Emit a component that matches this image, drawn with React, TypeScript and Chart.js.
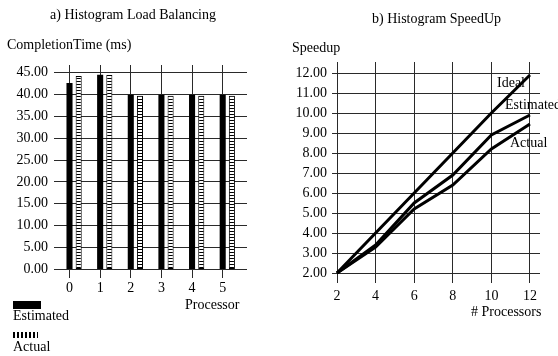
import React, { useEffect, useRef } from "react";
import { Chart, registerables } from "chart.js";

Chart.register(...registerables);

// ---- a) Histogram Load Balancing ----
const processors = [0, 1, 2, 3, 4, 5];
const estimatedTime = [42.6, 44.5, 39.9, 39.9, 39.9, 39.9];
const actualTime = [44.2, 44.4, 39.7, 39.7, 39.7, 39.7];
const loadTicks = [0, 5, 10, 15, 20, 25, 30, 35, 40, 45];

// ---- b) Histogram SpeedUp ----
const procCounts = [2, 4, 6, 8, 10, 12];
const idealSpeedup = [2, 4, 6, 8, 10, 11.9];
const estimatedSpeedup = [2, 3.4, 5.5, 6.9, 8.9, 9.9];
const actualSpeedup = [2, 3.3, 5.2, 6.4, 8.2, 9.45];
const speedupTicks = [2, 3, 4, 5, 6, 7, 8, 9, 10, 11, 12];

const FONT = "'Liberation Serif', 'DejaVu Serif', serif";
const tickFont = { family: FONT, size: 14 };
const GRID = "#2a2a2a";

function makeStripePattern(): CanvasPattern | string {
  const c = document.createElement("canvas");
  c.width = 4;
  c.height = 3;
  const ctx = c.getContext("2d");
  if (!ctx) return "#fff";
  ctx.fillStyle = "#fff";
  ctx.fillRect(0, 0, 4, 3);
  ctx.fillStyle = "#000";
  ctx.fillRect(0, 0, 4, 1);
  const p = ctx.createPattern(c, "repeat");
  return p || "#fff";
}

const textStyle: React.CSSProperties = {
  position: "absolute",
  fontFamily: FONT,
  fontSize: 14,
  lineHeight: "14px",
  color: "#000",
  whiteSpace: "nowrap",
};

export default function App() {
  const leftRef = useRef<HTMLCanvasElement>(null);
  const rightRef = useRef<HTMLCanvasElement>(null);

  useEffect(() => {
    if (!leftRef.current || !rightRef.current) return;
    const pattern = makeStripePattern();

    const left = new Chart(leftRef.current, {
      type: "bar",
      data: {
        datasets: [
          {
            label: "Estimated",
            data: processors.map((p, i) => ({ x: p, y: estimatedTime[i] })),
            backgroundColor: "#000",
            borderWidth: 0,
            categoryPercentage: 0.6,
            barPercentage: 0.66,
            xAxisID: "x",
            yAxisID: "y",
          },
          {
            label: "Actual",
            data: processors.map((p, i) => ({ x: p, y: actualTime[i] })),
            backgroundColor: pattern as any,
            borderColor: "#000",
            borderWidth: 1,
            borderSkipped: false,
            categoryPercentage: 0.6,
            barPercentage: 0.66,
            xAxisID: "x",
            yAxisID: "y",
          },
        ],
      },
      options: {
        animation: false,
        responsive: false,
        maintainAspectRatio: false,
        layout: { padding: { left: 0, right: 13, top: 65, bottom: 0 } },
        plugins: {
          legend: { display: false },
          tooltip: { enabled: false },
          title: { display: false },
        },
        scales: {
          x: {
            type: "linear",
            min: -0.656,
            max: 5.643,
            offset: false,
            grid: { offset: false },
            display: false,
          },
          xg: {
            type: "linear",
            position: "bottom",
            min: -0.506,
            max: 5.793,
            offset: false,
            afterBuildTicks: (s: any) => {
              s.ticks = processors.map((v) => ({ value: v }));
            },
            afterFit: (s: any) => {
              s.height = 22;
            },
            grid: { color: GRID, lineWidth: 1, drawTicks: false, offset: false },
            border: { display: false },
            ticks: {
              font: tickFont,
              color: "#000",
              padding: 2,
              maxRotation: 0,
              callback: (v: any) => String(v),
            },
          },
          y: {
            type: "linear",
            min: -1.94,
            max: 46.7,
            afterBuildTicks: (s: any) => {
              s.ticks = loadTicks.map((v) => ({ value: v }));
            },
            afterFit: (s: any) => {
              s.width = 54;
            },
            grid: { color: GRID, lineWidth: 1, drawTicks: false },
            border: { display: false },
            ticks: {
              font: tickFont,
              color: "#000",
              padding: 6,
              callback: (v: any) => Number(v).toFixed(2),
            },
          },
        },
      } as any,
    });

    const lineDs = (label: string, vals: number[]) => ({
      label,
      data: procCounts.map((p, i) => ({ x: p, y: vals[i] })),
      borderColor: "#000",
      backgroundColor: "#000",
      borderWidth: 3,
      pointRadius: 0,
      tension: 0,
      fill: false,
    });

    const right = new Chart(rightRef.current, {
      type: "line",
      data: {
        datasets: [
          lineDs("Ideal", idealSpeedup),
          lineDs("Estimated", estimatedSpeedup),
          lineDs("Actual", actualSpeedup),
        ],
      },
      options: {
        animation: false,
        responsive: false,
        maintainAspectRatio: false,
        layout: { padding: { left: 0, right: 18, top: 62, bottom: 0 } },
        plugins: {
          legend: { display: false },
          tooltip: { enabled: false },
          title: { display: false },
        },
        scales: {
          x: {
            type: "linear",
            min: 1.74,
            max: 12.52,
            afterBuildTicks: (s: any) => {
              s.ticks = procCounts.map((v) => ({ value: v }));
            },
            afterFit: (s: any) => {
              s.height = 25;
            },
            grid: { color: GRID, lineWidth: 1, drawTicks: false },
            border: { display: false },
            ticks: {
              font: tickFont,
              color: "#000",
              padding: 4.6,
              maxRotation: 0,
              callback: (v: any) => String(v),
            },
          },
          y: {
            type: "linear",
            min: 1.5,
            max: 12.55,
            afterBuildTicks: (s: any) => {
              s.ticks = speedupTicks.map((v) => ({ value: v }));
            },
            afterFit: (s: any) => {
              s.width = 52;
            },
            grid: { color: GRID, lineWidth: 1, drawTicks: false },
            border: { display: false },
            ticks: {
              font: tickFont,
              color: "#000",
              padding: 5,
              callback: (v: any) => Number(v).toFixed(2),
            },
          },
        },
      } as any,
    });

    return () => {
      left.destroy();
      right.destroy();
    };
  }, []);

  return (
    <div
      style={{
        position: "absolute",
        left: 0,
        top: 0,
        width: 558,
        height: 356,
        background: "#fff",
        overflow: "hidden",
      }}
    >
      <canvas
        ref={leftRef}
        width={260}
        height={300}
        style={{ position: "absolute", left: 0, top: 0, width: 260, height: 300 }}
      />
      <canvas
        ref={rightRef}
        width={278}
        height={308}
        style={{ position: "absolute", left: 280, top: 0, width: 278, height: 308 }}
      />

      <div style={{ ...textStyle, left: 50, top: 8 }}>a) Histogram Load Balancing</div>
      <div style={{ ...textStyle, left: 7, top: 38 }}>CompletionTime (ms)</div>
      <div style={{ ...textStyle, left: 185, top: 298 }}>Processor</div>

      <div style={{ position: "absolute", left: 13, top: 301, width: 28, height: 8, background: "#000" }} />
      <div style={{ ...textStyle, left: 13, top: 309 }}>Estimated</div>
      <div
        style={{
          position: "absolute",
          left: 13,
          top: 332,
          width: 25,
          height: 6,
          background: "repeating-linear-gradient(90deg, #000 0px, #000 2px, #fff 2px, #fff 4px)",
        }}
      />
      <div style={{ ...textStyle, left: 13, top: 340 }}>Actual</div>

      <div style={{ ...textStyle, left: 372, top: 12 }}>b) Histogram SpeedUp</div>
      <div style={{ ...textStyle, left: 292, top: 41 }}>Speedup</div>
      <div style={{ ...textStyle, left: 471, top: 305 }}># Processors</div>

      <div style={{ ...textStyle, left: 497, top: 76 }}>Ideal</div>
      <div style={{ ...textStyle, left: 505, top: 98 }}>Estimated</div>
      <div style={{ ...textStyle, left: 510, top: 136 }}>Actual</div>
    </div>
  );
}
